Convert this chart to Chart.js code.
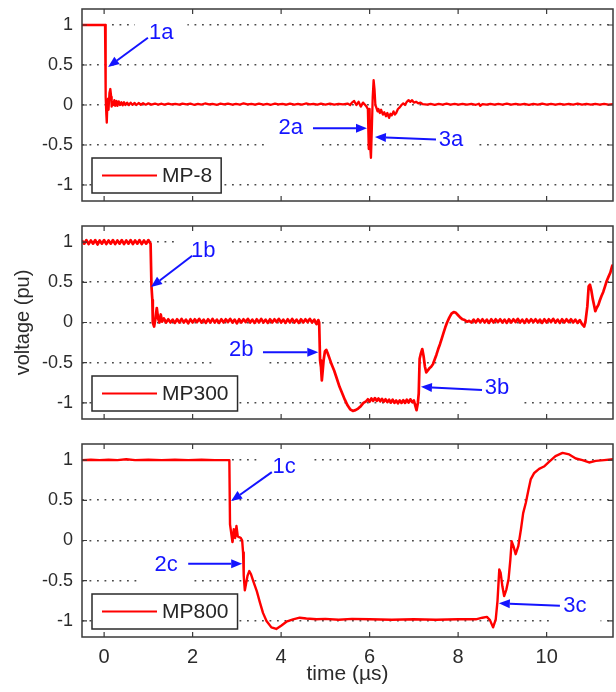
<!DOCTYPE html>
<html><head><meta charset="utf-8">
<script src="https://cdn.jsdelivr.net/npm/chart.js@4/dist/chart.umd.min.js"></script>
<style>
html,body{margin:0;padding:0;background:#fff;}
#wrap{position:relative;width:616px;height:692px;overflow:hidden;}
canvas{position:absolute;left:0;}
</style></head><body>
<div id="wrap">
<canvas id="c1" width="616" height="215" style="top:0px"></canvas>
<canvas id="c2" width="616" height="218" style="top:215px"></canvas>
<canvas id="c3" width="616" height="259" style="top:433px"></canvas>
</div>
<script>
// ---- data ----
const xTicks = [0, 2, 4, 6, 8, 10];
const yTicks = [-1, -0.5, 0, 0.5, 1];
const seriesNames = ['MP-8', 'MP300', 'MP800'];
const xTitle = 'time (\u00b5s)';
const yTitle = 'voltage (pu)';

const mp8 = [
[-0.5,1.0],[-0.3,1.0],[-0.1,1.0],[0.02,1.0],[0.03,0.5],[0.04,0.1],[0.05,-0.12],[0.06,-0.22],[0.07,-0.05],
[0.09,0.08],[0.1,-0.06],[0.12,0.15],[0.14,0.2],[0.16,0.1],[0.17,-0.02],[0.19,0.04],[0.21,0.0],[0.23,0.06],
[0.25,-0.01],[0.28,0.05],[0.3,-0.01],[0.33,0.045],[0.36,0.0],[0.39,0.035],[0.42,-0.005],[0.45,0.035],[0.48,0.0],
[0.52,0.03],[0.56,0.0],[0.6,0.03],[0.64,0.002],[0.69,0.025],[0.73,0.0],[0.78,0.025],[0.83,0.003],[0.88,0.022],
[0.94,0.004],[1.0,0.02],[1.07,0.005],[1.15,0.018],[1.22,0.006],[1.3,0.016],[1.36,0.004],[1.45,0.017],
[1.52,0.007],[1.61,0.015],[1.7,0.004],[1.77,0.018],[1.86,0.008],[1.95,0.016],[2.03,0.003],[2.12,0.015],
[2.2,0.006],[2.28,0.019],[2.37,0.007],[2.45,0.014],[2.55,0.003],[2.63,0.016],[2.71,0.008],[2.8,0.018],
[2.9,0.005],[2.98,0.014],[3.07,0.006],[3.15,0.02],[3.24,0.007],[3.33,0.015],[3.41,0.004],[3.5,0.017],
[3.6,0.006],[3.68,0.015],[3.77,0.003],[3.86,0.018],[3.94,0.007],[4.03,0.015],[4.12,0.005],[4.2,0.017],
[4.3,0.006],[4.38,0.014],[4.47,0.004],[4.56,0.019],[4.65,0.007],[4.73,0.015],[4.82,0.005],[4.9,0.016],
[5.0,0.006],[5.1,0.017],[5.2,0.004],[5.3,0.015],[5.4,0.007],[5.5,0.018],[5.56,0.0],
[5.6,0.03],[5.65,0.05],[5.7,0.0],[5.75,0.04],[5.8,-0.02],[5.85,0.03],[5.9,0.0],
[5.93,-0.02],[5.96,-0.05],[5.98,-0.55],[5.99,-0.4],[6.0,-0.05],[6.01,-0.5],[6.03,-0.66],[6.05,-0.3],
[6.07,0.1],[6.09,0.31],[6.11,0.2],[6.13,0.0],[6.15,-0.03],[6.18,-0.08],[6.2,-0.05],[6.23,-0.1],[6.26,-0.06],
[6.3,-0.12],[6.33,-0.09],[6.37,-0.14],[6.4,-0.1],[6.44,-0.16],[6.47,-0.11],[6.5,-0.13],[6.54,-0.08],
[6.57,-0.12],[6.6,-0.1],[6.64,-0.05],[6.68,-0.03],[6.72,0.0],[6.76,0.02],[6.8,0.0],[6.84,0.04],[6.88,0.06],
[6.92,0.04],[6.96,0.06],[7.0,0.03],[7.05,0.04],[7.1,0.02],[7.15,0.03],[7.2,0.01],[7.3,0.004],[7.38,0.015],
[7.47,0.003],[7.56,0.014],[7.65,0.005],[7.74,0.016],[7.83,0.006],[7.92,0.013],[8.01,0.004],[8.1,0.015],
[8.2,0.006],[8.3,0.014],[8.4,0.003],[8.47,0.016],[8.5,-0.01],[8.55,0.012],[8.64,0.005],[8.73,0.015],
[8.82,0.004],[8.91,0.013],[9.0,0.006],[9.1,0.016],[9.2,0.004],[9.3,0.014],[9.4,0.005],[9.5,0.015],
[9.6,0.003],[9.7,0.014],[9.8,0.006],[9.9,0.016],[10.0,0.004],[10.1,0.013],[10.2,0.005],[10.3,0.015],
[10.4,0.004],[10.5,0.014],[10.6,0.006],[10.7,0.016],[10.8,0.004],[10.9,0.013],[11.0,0.005],[11.1,0.015],
[11.2,0.004],[11.3,0.014],[11.4,0.006],[11.5,0.012]
];

const mp300 = [
[-0.5,1.02],[-0.45,0.98],[-0.4,1.025],[-0.35,0.975],[-0.3,1.02],[-0.25,0.98],[-0.2,1.025],[-0.15,0.97],
[-0.1,1.02],[-0.05,0.98],[0.0,1.025],[0.05,0.975],[0.1,1.02],[0.15,0.98],[0.2,1.025],[0.25,0.975],
[0.3,1.02],[0.35,0.98],[0.4,1.025],[0.45,0.975],[0.5,1.02],[0.55,0.98],[0.6,1.025],[0.65,0.975],
[0.7,1.02],[0.75,0.98],[0.8,1.025],[0.85,0.975],[0.9,1.02],[0.95,0.98],[1.0,1.025],[1.05,0.98],
[1.07,0.45],[1.09,0.28],[1.1,0.0],[1.13,-0.05],[1.16,0.05],[1.19,0.18],[1.22,0.05],[1.25,0.0],[1.28,0.1],
[1.31,0.01],[1.35,0.05],[1.4,0.0],
[1.45,0.04],[1.5,0.0],[1.55,0.035],[1.6,-0.005],[1.65,0.04],[1.7,0.0],[1.75,0.045],[1.8,0.0],[1.85,0.035],
[1.9,-0.01],[1.95,0.04],[2.0,0.0],[2.05,0.04],[2.1,0.005],[2.15,0.045],[2.2,0.0],[2.25,0.035],[2.3,-0.005],
[2.35,0.04],[2.4,0.0],[2.45,0.045],[2.5,0.0],[2.55,0.035],[2.6,-0.005],[2.65,0.04],[2.7,0.0],[2.75,0.04],
[2.8,0.005],[2.85,0.045],[2.9,0.0],[2.95,0.035],[3.0,-0.01],[3.05,0.04],[3.1,0.0],[3.15,0.04],[3.2,0.005],
[3.25,0.045],[3.3,0.0],[3.35,0.035],[3.4,-0.005],[3.45,0.04],[3.5,0.0],[3.55,0.045],[3.6,0.0],[3.65,0.035],
[3.7,-0.005],[3.75,0.04],[3.8,0.0],[3.85,0.04],[3.9,0.005],[3.95,0.045],[4.0,0.0],[4.05,0.035],[4.1,-0.005],
[4.15,0.04],[4.2,0.0],[4.25,0.045],[4.3,0.0],[4.35,0.035],[4.4,-0.005],[4.45,0.04],[4.5,0.0],[4.55,0.04],
[4.6,0.005],[4.65,0.045],[4.7,0.0],[4.75,0.035],[4.8,-0.02],[4.84,0.03],[4.86,0.0],
[4.88,-0.47],[4.9,-0.55],[4.92,-0.72],[4.94,-0.6],[4.96,-0.47],[4.99,-0.36],[5.02,-0.34],[5.05,-0.38],
[5.09,-0.44],[5.14,-0.52],[5.2,-0.6],[5.26,-0.7],[5.32,-0.8],[5.38,-0.88],[5.44,-0.96],[5.5,-1.03],
[5.56,-1.08],[5.62,-1.1],[5.68,-1.09],[5.74,-1.07],[5.8,-1.04],[5.86,-1.0],[5.92,-0.98],
[5.96,-0.955],[6.0,-0.985],[6.04,-0.945],[6.08,-0.975],[6.12,-0.94],[6.16,-0.975],[6.2,-0.945],[6.24,-0.98],
[6.28,-0.95],[6.32,-0.985],[6.36,-0.955],[6.4,-0.99],[6.44,-0.96],[6.48,-0.995],[6.52,-0.96],[6.56,-1.0],
[6.6,-0.97],[6.64,-1.005],[6.68,-0.97],[6.72,-1.0],[6.76,-0.965],[6.8,-1.0],[6.84,-0.96],[6.88,-0.995],
[6.92,-0.955],[6.96,-0.99],[7.0,-0.97],[7.03,-1.03],[7.06,-1.09],[7.09,-1.0],[7.11,-0.88],[7.13,-0.45],
[7.16,-0.38],[7.19,-0.33],[7.22,-0.42],[7.25,-0.55],[7.28,-0.62],[7.31,-0.6],[7.35,-0.57],[7.39,-0.55],
[7.43,-0.52],[7.47,-0.46],[7.51,-0.4],[7.55,-0.33],[7.59,-0.27],[7.63,-0.2],[7.67,-0.13],[7.71,-0.06],
[7.75,0.0],[7.8,0.06],[7.85,0.11],[7.9,0.13],[7.95,0.12],[8.0,0.09],[8.05,0.06],[8.1,0.04],[8.15,0.03],
[8.2,0.01],[8.25,0.02],[8.3,0.0],
[8.35,0.035],[8.4,0.0],[8.45,0.04],[8.5,0.005],[8.55,0.04],[8.6,0.0],[8.65,0.035],[8.7,-0.005],[8.75,0.04],
[8.8,0.0],[8.85,0.04],[8.9,0.005],[8.95,0.04],[9.0,0.0],[9.05,0.035],[9.1,-0.005],[9.15,0.04],[9.2,0.0],
[9.25,0.04],[9.3,0.005],[9.35,0.045],[9.4,0.0],[9.45,0.035],[9.5,-0.005],[9.55,0.04],[9.6,0.0],[9.65,0.04],
[9.7,0.005],[9.75,0.04],[9.8,0.0],[9.85,0.035],[9.9,-0.005],[9.95,0.04],[10.0,0.0],[10.05,0.04],[10.1,0.005],
[10.15,0.045],[10.2,0.0],[10.25,0.035],[10.3,-0.005],[10.35,0.04],[10.4,0.0],[10.45,0.04],[10.5,0.005],
[10.55,0.04],[10.6,0.0],[10.65,0.035],[10.7,-0.005],[10.75,0.03],[10.8,-0.02],[10.85,-0.05],[10.88,0.02],
[10.92,0.2],[10.95,0.45],[10.98,0.47],[11.01,0.4],[11.04,0.3],[11.07,0.22],[11.1,0.14],[11.13,0.18],
[11.17,0.22],[11.2,0.27],[11.24,0.33],[11.28,0.38],[11.32,0.45],[11.36,0.52],[11.4,0.57],[11.44,0.62],
[11.48,0.7],[11.5,0.72]
];

const mp800 = [
[-0.5,1.0],[-0.3,1.005],[-0.1,1.0],[0.1,1.005],[0.3,1.0],[0.5,1.01],[0.7,1.0],[1.0,1.005],[1.3,1.0],
[1.6,1.005],[1.9,1.0],[2.2,1.005],[2.5,1.0],[2.8,1.0],[2.83,1.0],[2.845,0.2],[2.87,0.1],[2.9,-0.02],
[2.93,0.14],[2.96,0.03],[2.99,0.18],[3.02,0.05],[3.06,0.04],[3.09,0.03],[3.12,0.0],[3.14,-0.15],
[3.15,-0.28],[3.16,-0.44],[3.18,-0.62],[3.21,-0.53],[3.24,-0.44],[3.28,-0.38],[3.32,-0.42],[3.38,-0.52],
[3.45,-0.63],[3.52,-0.77],[3.59,-0.9],[3.67,-1.0],[3.78,-1.08],[3.89,-1.1],[4.0,-1.06],[4.12,-1.01],
[4.27,-0.98],[4.42,-0.96],[4.57,-0.97],[4.8,-0.98],[5.0,-0.975],[5.3,-0.985],[5.6,-0.975],[6.0,-0.98],
[6.5,-0.985],[7.0,-0.98],[7.5,-0.985],[8.0,-0.98],[8.4,-0.98],[8.55,-0.96],[8.65,-0.95],[8.72,-0.99],
[8.79,-1.08],[8.85,-0.98],[8.89,-0.75],[8.93,-0.36],[8.96,-0.4],[9.0,-0.57],[9.04,-0.69],[9.09,-0.61],
[9.14,-0.48],[9.18,-0.24],[9.21,-0.01],[9.25,-0.07],[9.3,-0.17],[9.36,-0.07],[9.42,0.14],[9.47,0.34],
[9.53,0.47],[9.59,0.63],[9.64,0.76],[9.72,0.84],[9.83,0.89],[9.94,0.92],[10.06,0.98],[10.2,1.05],
[10.36,1.09],[10.51,1.07],[10.66,1.02],[10.81,1.0],[10.96,0.97],[11.11,0.99],[11.3,1.0],[11.5,1.01]
];

// ---- annotations (text / arrow anchors in data units) ----
const notes1 = [
  {label:'1a', text:[1.29,0.90], tail:[0.99,0.84], head:[0.09,0.475]},
  {label:'2a', text:[4.22,-0.29], tail:[4.72,-0.29], head:[5.94,-0.29]},
  {label:'3a', text:[7.84,-0.44], tail:[7.50,-0.43], head:[6.12,-0.40]}
];
const notes2 = [
  {label:'1b', text:[2.24,0.89], tail:[1.99,0.83], head:[1.06,0.44]},
  {label:'2b', text:[3.10,-0.34], tail:[3.59,-0.37], head:[4.84,-0.37]},
  {label:'3b', text:[8.88,-0.81], tail:[8.54,-0.84], head:[7.16,-0.80]}
];
const notes3 = [
  {label:'1c', text:[4.07,0.91], tail:[3.79,0.85], head:[2.87,0.49]},
  {label:'2c', text:[1.40,-0.30], tail:[1.90,-0.29], head:[3.12,-0.29]},
  {label:'3c', text:[10.64,-0.81], tail:[10.30,-0.81], head:[8.92,-0.78]}
];

// ---- drawing ----
const FONT = "'Liberation Sans', Arial, Helvetica, sans-serif";
const BLUE = '#1414ff';
const FRAME = '#3a3a3a';

function arrow(ctx, x1, y1, x2, y2) {
  const ang = Math.atan2(y2 - y1, x2 - x1), L = 11, W = 4.5;
  const bx = x2 - L * Math.cos(ang), by = y2 - L * Math.sin(ang);
  ctx.beginPath(); ctx.moveTo(x1, y1); ctx.lineTo(bx, by); ctx.stroke();
  ctx.beginPath(); ctx.moveTo(x2, y2);
  ctx.lineTo(bx + W * Math.sin(ang), by - W * Math.cos(ang));
  ctx.lineTo(bx - W * Math.sin(ang), by + W * Math.cos(ang));
  ctx.closePath(); ctx.fill();
}

function makePlugin(p) {
  return {
    id: 'deco',
    beforeDatasetsDraw(chart) {
      const ctx = chart.ctx, xs = chart.scales.x, ys = chart.scales.y, a = chart.chartArea;
      ctx.save();
      ctx.fillStyle = '#fff';
      ctx.font = '22px ' + FONT;
      p.notes.forEach(n => {
        const cx = xs.getPixelForValue(n.text[0]), cy = ys.getPixelForValue(n.text[1]);
        const w = ctx.measureText(n.label).width + 28;
        ctx.fillRect(cx - w / 2, cy - 19, w, 38);
      });
      ctx.font = '21px ' + FONT;
      const lw = 70 + ctx.measureText(p.name).width + 9;
      ctx.fillRect(a.left + 10, a.bottom - 8 - 35, lw, 35);
      ctx.restore();
    },
    afterDatasetsDraw(chart) {
      const ctx = chart.ctx, xs = chart.scales.x, ys = chart.scales.y, a = chart.chartArea;
      ctx.save();
      // legend
      ctx.font = '21px ' + FONT;
      const lw = 70 + ctx.measureText(p.name).width + 9;
      const lx = a.left + 10, ly = a.bottom - 8 - 35;
      ctx.fillStyle = '#fff';
      ctx.fillRect(lx, ly, lw, 35);
      ctx.strokeStyle = '#2a2a2a'; ctx.lineWidth = 1.5;
      ctx.strokeRect(lx, ly, lw, 35);
      ctx.strokeStyle = '#ff0000'; ctx.lineWidth = 2;
      ctx.beginPath(); ctx.moveTo(lx + 10, ly + 17.5); ctx.lineTo(lx + 65, ly + 17.5); ctx.stroke();
      ctx.fillStyle = '#262626'; ctx.textAlign = 'left'; ctx.textBaseline = 'middle';
      ctx.fillText(p.name, lx + 70, ly + 18);
      // annotations
      ctx.strokeStyle = BLUE; ctx.fillStyle = BLUE; ctx.lineWidth = 2;
      p.notes.forEach(n => {
        arrow(ctx, xs.getPixelForValue(n.tail[0]), ys.getPixelForValue(n.tail[1]),
                   xs.getPixelForValue(n.head[0]), ys.getPixelForValue(n.head[1]));
      });
      ctx.font = '22px ' + FONT; ctx.textAlign = 'center'; ctx.textBaseline = 'middle';
      p.notes.forEach(n => {
        ctx.fillText(n.label, xs.getPixelForValue(n.text[0]), ys.getPixelForValue(n.text[1]));
      });
      ctx.restore();
    },
    afterDraw(chart) {
      const ctx = chart.ctx, xs = chart.scales.x, ys = chart.scales.y, a = chart.chartArea;
      ctx.save();
      ctx.strokeStyle = FRAME; ctx.lineWidth = 1.5;
      ctx.strokeRect(a.left, a.top, a.right - a.left, a.bottom - a.top);
      ctx.lineWidth = 1.2;
      ctx.beginPath();
      ys.ticks.forEach(t => {
        const py = ys.getPixelForValue(t.value);
        ctx.moveTo(a.left, py); ctx.lineTo(a.left + 5, py);
        ctx.moveTo(a.right, py); ctx.lineTo(a.right - 5, py);
      });
      xs.ticks.forEach(t => {
        const px = xs.getPixelForValue(t.value);
        ctx.moveTo(px, a.top); ctx.lineTo(px, a.top + 5);
        ctx.moveTo(px, a.bottom); ctx.lineTo(px, a.bottom - 5);
      });
      ctx.stroke();
      ctx.fillStyle = '#2b2b2b';
      if (p.yTitle) {
        ctx.save();
        ctx.translate(23, (a.top + a.bottom) / 2);
        ctx.rotate(-Math.PI / 2);
        ctx.font = '20px ' + FONT; ctx.textAlign = 'center'; ctx.textBaseline = 'middle';
        ctx.fillText(p.yTitle, 0, 0);
        ctx.restore();
      }
      if (p.xTitle) {
        ctx.font = '21px ' + FONT; ctx.textAlign = 'center'; ctx.textBaseline = 'middle';
        ctx.fillText(p.xTitle, (a.left + a.right) / 2, a.bottom + 37);
      }
      ctx.restore();
    }
  };
}

function makeChart(p) {
  new Chart(document.getElementById(p.canvas), {
    type: 'line',
    data: {
      datasets: [{
        label: p.name,
        data: p.data.map(d => ({x: d[0], y: d[1]})),
        borderColor: '#ff0000',
        borderWidth: p.lineWidth,
        pointRadius: 0,
        tension: 0,
        borderJoinStyle: 'round',
        fill: false
      }]
    },
    options: {
      responsive: false,
      animation: false,
      events: [],
      layout: { autoPadding: false, padding: { left: 0, right: 3, top: p.padTop, bottom: p.padBottom } },
      plugins: { legend: { display: false }, tooltip: { enabled: false } },
      scales: {
        x: {
          type: 'linear', min: -0.5, max: 11.5,
          afterBuildTicks: s => { s.ticks = xTicks.map(v => ({value: v})); },
          afterFit: s => { s.height = p.xHeight; s.paddingLeft = 0; s.paddingRight = 0; s.paddingTop = 0; s.paddingBottom = 0; },
          grid: { display: false, drawTicks: false },
          border: { display: false },
          ticks: { display: p.showX, padding: 8, color: '#2b2b2b', font: { family: FONT, size: 20 }, callback: v => String(v), maxRotation: 0, autoSkip: false }
        },
        y: {
          type: 'linear', min: -1.2, max: 1.2,
          afterBuildTicks: s => { s.ticks = yTicks.map(v => ({value: v})); },
          afterFit: s => { s.width = 82; s.paddingTop = 0; s.paddingBottom = 0; s.paddingLeft = 0; s.paddingRight = 0; },
          grid: { color: '#4a4a4a', lineWidth: 1.6, drawTicks: false },
          border: { display: false, dash: [1.8, 5.7] },
          ticks: { padding: 9, color: '#2b2b2b', font: { family: FONT, size: 18 }, callback: v => String(v), autoSkip: false }
        }
      }
    },
    plugins: [makePlugin(p)]
  });
}

makeChart({canvas: 'c1', data: mp8, name: seriesNames[0], notes: notes1, padTop: 9, padBottom: 14, xHeight: 0, showX: false, lineWidth: 2.3});
makeChart({canvas: 'c2', data: mp300, name: seriesNames[1], notes: notes2, padTop: 11, padBottom: 14, xHeight: 0, showX: false, yTitle: yTitle, lineWidth: 2.7});
makeChart({canvas: 'c3', data: mp800, name: seriesNames[2], notes: notes3, padTop: 11, padBottom: 0, xHeight: 55, showX: true, xTitle: xTitle, lineWidth: 2.4});
</script>
</body></html>
